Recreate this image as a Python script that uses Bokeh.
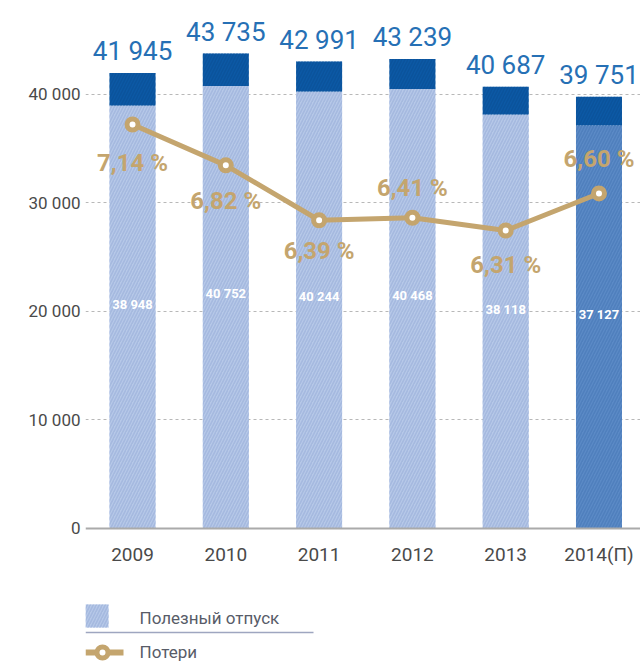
from bokeh.plotting import figure
from bokeh.models import ColumnDataSource, Range1d, FixedTicker, LinearAxis
from bokeh.core.properties import value
from bokeh.embed import file_html
from bokeh.resources import INLINE

# ---- data ----
years = ["2009", "2010", "2011", "2012", "2013", "2014(П)"]
totals = [41945, 43735, 42991, 43239, 40687, 39751]
useful = [38948, 40752, 40244, 40468, 38118, 37127]
loss_pct = [7.14, 6.82, 6.39, 6.41, 6.31, 6.60]
y_ticks = [0, 10000, 20000, 30000, 40000]
legend_labels = ["Полезный отпуск", "Потери"]

# ---- styles ----
FONT = "Roboto"
GOLD = "#c4a56e"
BLUE_TXT = "#2670b5"
DARK = "#0b59a5"
LIGHT = "#b6c8e8"
LIGHT_H = "#a5b9df"
FORE = "#5b8ac6"
FORE_H = "#4f7fbd"
AXIS_TXT = "#4a4a4a"
LEG_TXT = "#585c68"

base_colors = [LIGHT] * 5 + [FORE]
hatch_colors = [LIGHT_H] * 5 + [FORE_H]
pct_offsets = [39, 36, 31, -30, 35, -34]


def fmt_int(v):
    return f"{v:,}".replace(",", " ")


def fmt_pct(v):
    return f"{v:.2f}".replace(".", ",") + " %"


xs = list(range(len(years)))
src = ColumnDataSource(dict(
    x=xs,
    total=totals,
    useful=useful,
    pct=loss_pct,
    total_lbl=[fmt_int(v) for v in totals],
    useful_lbl=[fmt_int(v) for v in useful],
    pct_lbl=[fmt_pct(v) for v in loss_pct],
    useful_mid=[u * 0.53 for u in useful],
    base_color=base_colors,
    hatch_color=hatch_colors,
    pct_off=pct_offsets,
))

W, H = 640, 664
p = figure(width=W, height=H, output_backend="svg", toolbar_location=None,
           x_range=Range1d(-0.504, 5.445), y_range=Range1d(-12523, 48250),
           x_axis_location=None,
           min_border_left=85, min_border_right=0, min_border_top=4, min_border_bottom=0)
p.extra_y_ranges = {"pct": Range1d(2.9113, 8.0797), "py": Range1d(664, 4)}
p.extra_x_ranges = {"px": Range1d(85, 640)}
p.outline_line_color = None

p.xgrid.visible = False
p.ygrid.ticker = FixedTicker(ticks=y_ticks[1:])
p.ygrid.grid_line_color = "#b8b8b8"
p.ygrid.grid_line_dash = "3 3"
p.ygrid.grid_line_width = 1.2

p.yaxis.ticker = FixedTicker(ticks=y_ticks)
p.yaxis.major_label_overrides = {v: fmt_int(v) for v in y_ticks}
p.yaxis.axis_line_color = None
p.yaxis.major_tick_line_color = None
p.yaxis.minor_tick_line_color = None
p.yaxis.major_tick_out = 0
p.yaxis.major_tick_in = 0
p.yaxis.major_label_standoff = 5
p.yaxis.major_label_text_font = FONT
p.yaxis.major_label_text_font_size = "17px"
p.yaxis.major_label_text_color = AXIS_TXT

xax = LinearAxis(fixed_location=0, ticker=FixedTicker(ticks=xs),
                 major_label_overrides={i: y for i, y in zip(xs, years)})
xax.axis_line_color = "#aaaaaa"
xax.axis_line_width = 2
xax.major_tick_line_color = None
xax.minor_tick_line_color = None
xax.major_tick_out = 0
xax.major_tick_in = 0
xax.major_label_standoff = 15
xax.major_label_text_font = FONT
xax.major_label_text_font_size = "19px"
xax.major_label_text_color = AXIS_TXT
p.add_layout(xax, "below")

BW = 0.493
p.vbar(x="x", bottom=0, top="useful", width=BW, source=src,
       fill_color="base_color", line_color=None,
       hatch_pattern="/", hatch_color="hatch_color", hatch_weight=1.6, hatch_scale=6)
p.vbar(x="x", bottom="useful", top="total", width=BW, source=src,
       fill_color=DARK, line_color=None,
       hatch_pattern="/", hatch_color="#0a4f96", hatch_weight=1.6, hatch_scale=6, hatch_alpha=0.6)

p.line(x="x", y="pct", source=src, y_range_name="pct", line_color=GOLD, line_width=5)
p.scatter(x="x", y="pct", source=src, y_range_name="pct", size=11,
          fill_color="white", line_color=GOLD, line_width=5)

p.text(x="x", y="total", text="total_lbl", source=src, text_align="center",
       text_baseline="alphabetic", y_offset=-22, text_font=value(FONT),
       text_font_size="26px", text_color=BLUE_TXT)
p.text(x="x", y="useful_mid", text="useful_lbl", source=src, text_align="center",
       text_baseline="middle", text_font=value(FONT), text_font_style="bold",
       text_font_size="13px", text_color="white")
p.text(x="x", y="pct", text="pct_lbl", source=src, y_range_name="pct",
       text_align="center", text_baseline="middle", y_offset="pct_off",
       text_font=value(FONT), text_font_style="bold", text_font_size="24px",
       text_color=GOLD)

# ---- legend, in page-pixel ranges ----
R = dict(x_range_name="px", y_range_name="py")
p.quad(left=[85], right=[108], top=[604], bottom=[627], fill_color=LIGHT, line_color=None,
       hatch_pattern="/", hatch_color=LIGHT_H, hatch_weight=1.6, hatch_scale=6, **R)
p.text(x=[139], y=[617], text=[legend_labels[0]], text_baseline="middle",
       text_font=value(FONT), text_font_size="17px", text_color=LEG_TXT, **R)
p.segment(x0=[85], y0=[632], x1=[313], y1=[632], line_color="#9ea6c0", line_width=1.5, **R)
p.segment(x0=[85], y0=[652], x1=[123], y1=[652], line_color=GOLD, line_width=6, **R)
p.scatter(x=[102], y=[652], size=11, fill_color="white", line_color=GOLD, line_width=5, **R)
p.text(x=[139], y=[651], text=[legend_labels[1]], text_baseline="middle",
       text_font=value(FONT), text_font_size="17px", text_color=LEG_TXT, **R)

open("out.html", "w").write(file_html(p, INLINE))
